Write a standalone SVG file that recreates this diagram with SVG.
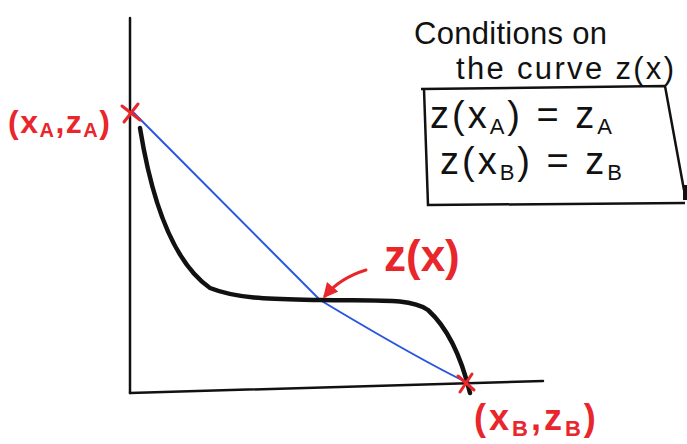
<svg xmlns="http://www.w3.org/2000/svg" width="687" height="444" viewBox="0 0 687 444">
<style>
.ax{stroke:#111;stroke-width:2.5;fill:none;stroke-linecap:round}
.red{fill:#e8262b;font-family:"Liberation Sans",sans-serif;font-weight:bold}
.blk{fill:#111;font-family:"Liberation Sans",sans-serif}
.rs{stroke:#e8262b;stroke-width:3;fill:none;stroke-linecap:round}
</style>
<defs>
<marker id="ah" viewBox="0 0 10 10" refX="8" refY="5" markerWidth="5" markerHeight="5" orient="auto"><path d="M0,0 L10,5 L0,10 z" fill="#e8262b"/></marker>
</defs>
<rect width="687" height="444" fill="#fff"/>
<g id="axes">
<path class="ax" d="M130,18 L130,393"/>
<path class="ax" d="M130,393 L543,381"/>
</g>
<g id="connectors">
<path d="M133,112 L320,300 Q420,360 470,384" stroke="#2856e0" stroke-width="2" fill="none"/>
<path d="M140,128 C150,190 170,260 210,288 C240,300 280,299 320,300 C380,301 410,298 428,310 C450,330 462,360 470,393" stroke="#111" stroke-width="4.5" fill="none" stroke-linecap="round"/>
<path class="rs" d="M366,270 Q340,278 325,296" marker-end="url(#ah)"/>
</g>
<g id="pointA">
<path class="rs" d="M122,106 L140,120 M138,104 L124,122"/>
<text class="red" x="8" y="133" font-size="32" letter-spacing="1.5">(x<tspan font-size="20" dy="4">A</tspan><tspan dy="-4">,z</tspan><tspan font-size="20" dy="4">A</tspan><tspan dy="-4">)</tspan></text>
</g>
<g id="pointB">
<path class="rs" d="M458,376 L474,390 M472,374 L460,392"/>
<text class="red" x="474" y="430" font-size="36" letter-spacing="3">(x<tspan font-size="22" dy="6">B</tspan><tspan dy="-6">,z</tspan><tspan font-size="22" dy="6">B</tspan><tspan dy="-6">)</tspan></text>
</g>
<g id="curveLabel">
<text class="red" x="384" y="271" font-size="44">z(x)</text>
</g>
<g id="conditions">
<text class="blk" x="414" y="44" font-size="31" textLength="193">Conditions  on</text>
<text class="blk" x="456" y="79" font-size="31" textLength="218">the curve z(x)</text>
<path d="M421,89 L665,86 L684,190 M424,89 L428,205 L685,203" stroke="#111" stroke-width="2.5" fill="none"/>
<path d="M685,185 L685,200" stroke="#111" stroke-width="4"/>
<text class="blk" x="430" y="128" font-size="38" letter-spacing="3">z(x<tspan font-size="22" dy="6">A</tspan><tspan dy="-6">) = z</tspan><tspan font-size="22" dy="6">A</tspan></text>
<text class="blk" x="440" y="174" font-size="38" letter-spacing="3">z(x<tspan font-size="22" dy="6">B</tspan><tspan dy="-6">) = z</tspan><tspan font-size="22" dy="6">B</tspan></text>
</g>
</svg>
